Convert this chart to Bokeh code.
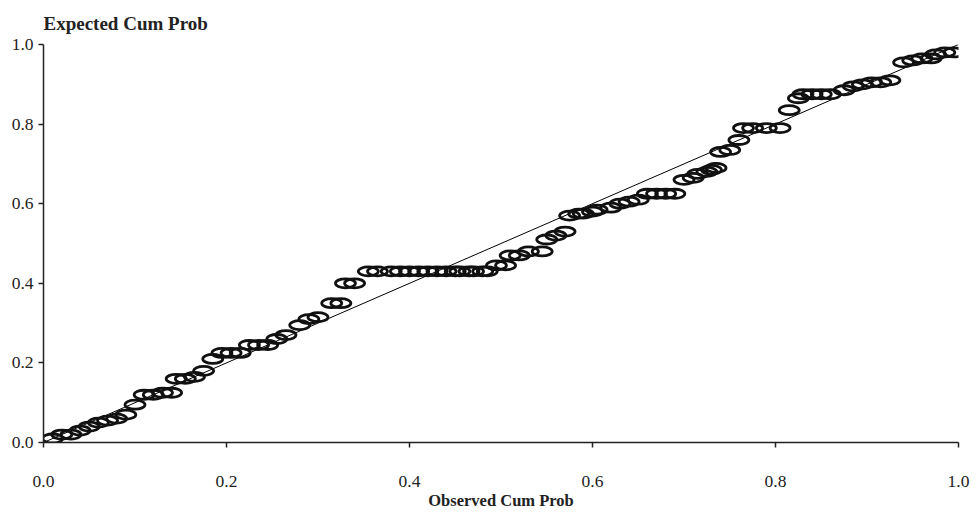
from bokeh.plotting import figure
from bokeh.models import Range1d, FixedTicker, PrintfTickFormatter, Title
from bokeh.embed import file_html
from bokeh.resources import INLINE

# Observed cumulative probability (x) and expected cumulative probability (y)
observed = [0.01, 0.02, 0.03, 0.04, 0.05, 0.06, 0.07, 0.08, 0.09, 0.10,
            0.11, 0.12, 0.13, 0.14, 0.145, 0.155, 0.165, 0.175, 0.185, 0.195,
            0.205, 0.215, 0.225, 0.235, 0.245, 0.255, 0.265, 0.28, 0.29, 0.30,
            0.315, 0.325, 0.33, 0.34, 0.355, 0.365, 0.38, 0.39, 0.40, 0.41,
            0.42, 0.43, 0.44, 0.45, 0.455, 0.465, 0.47, 0.48, 0.485, 0.495,
            0.505, 0.51, 0.52, 0.53, 0.545, 0.55, 0.56, 0.57, 0.575, 0.585,
            0.59, 0.60, 0.605, 0.62, 0.63, 0.64, 0.65, 0.66, 0.67, 0.68,
            0.69, 0.70, 0.71, 0.715, 0.725, 0.73, 0.735, 0.74, 0.75, 0.76,
            0.765, 0.775, 0.79, 0.805, 0.815, 0.825, 0.83, 0.84, 0.85, 0.86,
            0.875, 0.885, 0.895, 0.905, 0.915, 0.925, 0.94, 0.95, 0.96, 0.97,
            0.975, 0.985, 0.995]
expected = [0.01, 0.02, 0.02, 0.03, 0.04, 0.05, 0.055, 0.06, 0.07, 0.095,
            0.12, 0.12, 0.125, 0.125, 0.16, 0.16, 0.165, 0.18, 0.21, 0.225,
            0.225, 0.225, 0.245, 0.245, 0.245, 0.26, 0.27, 0.295, 0.31, 0.315,
            0.35, 0.35, 0.40, 0.40, 0.43, 0.43, 0.43, 0.43, 0.43, 0.43,
            0.43, 0.43, 0.43, 0.43, 0.43, 0.43, 0.43, 0.43, 0.43, 0.445,
            0.445, 0.47, 0.47, 0.48, 0.48, 0.51, 0.52, 0.53, 0.57, 0.575,
            0.575, 0.58, 0.585, 0.59, 0.60, 0.605, 0.61, 0.625, 0.625, 0.625,
            0.625, 0.66, 0.665, 0.675, 0.68, 0.685, 0.69, 0.73, 0.735, 0.76,
            0.79, 0.79, 0.79, 0.79, 0.835, 0.865, 0.875, 0.875, 0.875, 0.875,
            0.885, 0.895, 0.90, 0.905, 0.905, 0.91, 0.955, 0.96, 0.965, 0.965,
            0.975, 0.98, 0.98]

ref_x = [0.0, 1.0]
ref_y = [0.0, 1.0]
tick_values = [0.0, 0.2, 0.4, 0.6, 0.8, 1.0]

y_title = "Expected Cum Prob"
x_title = "Observed Cum Prob"

p = figure(frame_width=915, frame_height=398, output_backend="svg",
           toolbar_location=None,
           x_range=Range1d(0, 1), y_range=Range1d(0, 1),
           min_border_left=43, min_border_right=17, min_border_top=44,
           min_border_bottom=60)
p.outline_line_color = None
p.xgrid.visible = False
p.ygrid.visible = False
p.background_fill_color = "white"
p.border_fill_color = "white"

t = Title(text=y_title, align="left", text_font="Liberation Serif",
          text_font_size="19px", text_font_style="bold", text_color="#222222",
          standoff=21)
p.add_layout(t, "above")

p.line(ref_x, ref_y, line_color="black", line_width=1)
p.ellipse(observed, expected, width=20, height=9, width_units="screen",
          height_units="screen", fill_color=None, line_color="#111111",
          line_width=2.8)

for ax in (p.xaxis[0], p.yaxis[0]):
    ax.ticker = FixedTicker(ticks=tick_values)
    ax.formatter = PrintfTickFormatter(format="%.1f")
    ax.axis_line_color = "#222222"
    ax.axis_line_width = 1.5
    ax.major_tick_line_color = "#222222"
    ax.major_tick_line_width = 1.5
    ax.major_tick_in = 0
    ax.major_tick_out = 5
    ax.minor_tick_line_color = None
    ax.major_label_text_font = "Liberation Serif"
    ax.major_label_text_font_size = "17.5px"
    ax.major_label_text_color = "#222222"

p.xaxis[0].major_label_standoff = 28
p.xaxis[0].axis_label = x_title
p.xaxis[0].axis_label_text_font = "Liberation Serif"
p.xaxis[0].axis_label_text_font_size = "16.5px"
p.xaxis[0].axis_label_text_font_style = "bold"
p.xaxis[0].axis_label_text_color = "#222222"
p.xaxis[0].axis_label_standoff = 1
p.yaxis[0].major_label_standoff = 5

open("out.html", "w").write(file_html(p, INLINE))
